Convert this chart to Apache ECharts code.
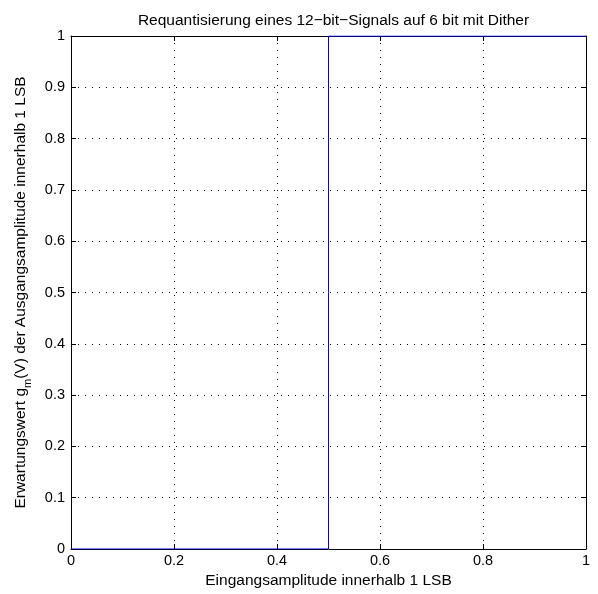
<!DOCTYPE html>
<html>
<head>
<meta charset="utf-8">
<script src="https://cdn.jsdelivr.net/npm/echarts@6/dist/echarts.min.js"></script>
<style>
html, body { margin: 0; padding: 0; background: #fff; }
#chart { width: 598px; height: 594px; }
</style>
</head>
<body>
<div id="chart"></div>
<script>
// Requantisierung: Erwartungswert ueber Eingangsamplitude
var titleText = 'Requantisierung eines 12\u2212bit\u2212Signals auf 6 bit mit Dither';
var xName = 'Eingangsamplitude innerhalb 1 LSB';
var xValues = [0, 0.5, 0.5, 1];
var yValues = [0, 0, 1, 1];
var xTicks = { min: 0, max: 1, interval: 0.2 };
var yTicks = { min: 0, max: 1, interval: 0.1 };

var chart = echarts.init(document.getElementById('chart'));

var lineData = xValues.map(function (x, i) { return [x, yValues[i]]; });

function fmt(v) {
    return String(Math.round(v * 10) / 10);
}

var font = 'Liberation Sans, Arial, Helvetica, sans-serif';
var gridLeft = 71, gridRight = 12;

var option = {
    animation: false,
    title: {
        text: titleText,
        left: gridLeft + (598 - gridLeft - gridRight) / 2,
        textAlign: 'center',
        top: 8,
        textStyle: {
            fontFamily: font,
            fontSize: 15.5,
            fontWeight: 'normal',
            color: '#000'
        }
    },
    grid: {
        left: gridLeft,
        right: gridRight,
        top: 36,
        bottom: 45,
        containLabel: false
    },
    xAxis: [{
        type: 'value',
        min: xTicks.min,
        max: xTicks.max,
        interval: xTicks.interval,
        name: xName,
        nameLocation: 'middle',
        nameGap: 24,
        nameTextStyle: { fontFamily: font, fontSize: 15.5, color: '#000' },
        axisLine: { onZero: false, lineStyle: { color: '#000', width: 1 } },
        axisTick: { inside: true, length: 5, lineStyle: { color: '#000' } },
        axisLabel: { fontFamily: font, fontSize: 14.5, color: '#000', margin: 4, formatter: fmt },
        splitLine: { show: true, lineStyle: { color: '#000', type: [1, 6], width: 1 } }
    }, {
        type: 'value',
        position: 'top',
        min: xTicks.min,
        max: xTicks.max,
        interval: xTicks.interval,
        axisLine: { onZero: false, lineStyle: { color: '#000', width: 1 } },
        axisTick: { inside: true, length: 5, lineStyle: { color: '#000' } },
        axisLabel: { show: false },
        splitLine: { show: false }
    }],
    yAxis: [{
        type: 'value',
        min: yTicks.min,
        max: yTicks.max,
        interval: yTicks.interval,
        name: '{n|Erwartungswert g}{sub|m}{n|(V) der Ausgangsamplitude innerhalb 1 LSB}',
        nameLocation: 'middle',
        nameGap: 38,
        nameRotate: 90,
        nameTextStyle: {
            fontFamily: font,
            fontSize: 15.5,
            color: '#000',
            rich: {
                n: { fontFamily: font, fontSize: 15.5, color: '#000', verticalAlign: 'top', lineHeight: 20 },
                sub: { fontFamily: font, fontSize: 11, color: '#000', verticalAlign: 'bottom', lineHeight: 10, padding: [12, 0, 0, 0] }
            }
        },
        axisLine: { onZero: false, lineStyle: { color: '#000', width: 1 } },
        axisTick: { inside: true, length: 5, lineStyle: { color: '#000' } },
        axisLabel: { fontFamily: font, fontSize: 14.5, color: '#000', margin: 6, formatter: fmt },
        splitLine: { show: true, lineStyle: { color: '#000', type: [1, 6], width: 1 } }
    }, {
        type: 'value',
        position: 'right',
        min: yTicks.min,
        max: yTicks.max,
        interval: yTicks.interval,
        axisLine: { onZero: false, lineStyle: { color: '#000', width: 1 } },
        axisTick: { inside: true, length: 5, lineStyle: { color: '#000' } },
        axisLabel: { show: false },
        splitLine: { show: false }
    }],
    series: [{
        type: 'line',
        data: lineData,
        showSymbol: false,
        symbol: 'none',
        lineStyle: { color: '#0000ff', width: 1 },
        z: 5
    }]
};

chart.setOption(option);
</script>
</body>
</html>
